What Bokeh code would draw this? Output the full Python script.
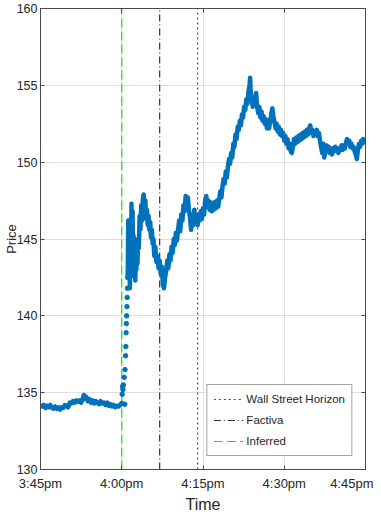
from bokeh.plotting import figure
from bokeh.models import Range1d, FixedTicker, LinearAxis, Legend, LegendItem
from bokeh.embed import file_html
from bokeh.resources import INLINE

# ---- data (minutes after 3:45pm, price) ----
time_min = [
    0.0, 0.3, 0.6, 0.9, 1.2, 1.5, 1.8, 2.1, 2.4, 2.7, 3.0, 3.3, 3.6, 3.9, 4.2, 4.5, 4.8, 5.1,
    5.4, 5.7, 6.0, 6.3, 6.6, 6.9, 7.2, 7.5, 7.8, 8.0, 8.2, 8.4, 8.7, 9.0, 9.3, 9.6, 9.9, 10.2,
    10.5, 10.8, 11.1, 11.4, 11.7, 12.0, 12.3, 12.6, 12.9, 13.2, 13.5, 13.8, 14.1, 14.4, 14.7, 15.0,
    15.08, 15.15, 15.22, 15.3, 15.45, 15.55, 15.6, 15.7, 15.75, 15.8, 15.85, 15.9, 15.95, 16.0, 16.05,
    16.1, 16.2, 16.3, 16.4, 16.5, 16.6, 16.7, 16.8, 16.9, 17.0, 17.1, 17.2, 17.3, 17.4, 17.5, 17.6,
    17.7, 17.8, 17.9, 18.0, 18.15, 18.3, 18.45, 18.6, 18.75, 18.9, 19.05, 19.2, 19.35, 19.5, 19.65,
    19.8, 19.95, 20.1, 20.25, 20.4, 20.55, 20.7, 20.85, 21.0, 21.2, 21.4, 21.6, 21.8, 22.0, 22.2,
    22.4, 22.6, 22.8, 23.0, 23.2, 23.4, 23.6, 23.8, 24.0, 24.2, 24.4, 24.6, 24.8, 25.0, 25.2, 25.4,
    25.6, 25.8, 26.0, 26.2, 26.4, 26.6, 26.8, 27.0, 27.2, 27.4, 27.6, 27.8, 28.0, 28.2, 28.4, 28.6,
    28.8, 29.0, 29.2, 29.4, 29.6, 29.8, 30.0, 30.2, 30.4, 30.6, 30.8, 31.0, 31.2, 31.4, 31.6, 31.8,
    32.0, 32.2, 32.4, 32.6, 32.8, 33.0, 33.2, 33.4, 33.6, 33.8, 34.0, 34.2, 34.4, 34.6, 34.8, 35.0,
    35.2, 35.4, 35.6, 35.8, 36.0, 36.2, 36.4, 36.6, 36.8, 37.0, 37.2, 37.4, 37.6, 37.8, 38.0, 38.2,
    38.4, 38.6, 38.7, 38.8, 39.0, 39.2, 39.4, 39.6, 39.8, 40.0, 40.2, 40.4, 40.6, 40.8, 41.0, 41.2,
    41.4, 41.6, 41.8, 42.0, 42.2, 42.4, 42.6, 42.8, 43.0, 43.2, 43.4, 43.6, 43.8, 44.0, 44.2, 44.4,
    44.6, 44.8, 45.0, 45.2, 45.4, 45.6, 45.8, 46.0, 46.2, 46.4, 46.6, 46.8, 47.0, 47.2, 47.4, 47.6,
    47.8, 48.0, 48.2, 48.4, 48.6, 48.8, 49.0, 49.2, 49.4, 49.6, 49.8, 50.0, 50.2, 50.4, 50.6, 50.8,
    51.0, 51.2, 51.4, 51.6, 51.8, 52.0, 52.2, 52.4, 52.6, 52.8, 53.0, 53.2, 53.4, 53.6, 53.8, 54.0,
    54.2, 54.4, 54.6, 54.8, 55.0, 55.2, 55.4, 55.6, 55.8, 56.0, 56.2, 56.4, 56.6, 56.8, 57.0, 57.2,
    57.4, 57.6, 57.8, 58.0, 58.2, 58.4, 58.6, 58.8, 59.0, 59.2, 59.4, 59.6, 59.8, 60.0,
]
price = [
    134.25, 134.1, 134.2, 134.0, 134.15, 134.05, 134.2, 134.0, 133.95, 134.1, 133.95, 134.05, 133.9,
    134.05, 134.0, 134.2, 134.15, 134.05, 134.35, 134.3, 134.45, 134.35, 134.5, 134.4, 134.5, 134.35,
    134.6, 134.85, 134.6, 134.75, 134.45, 134.6, 134.35, 134.5, 134.3, 134.45, 134.35, 134.25, 134.45,
    134.3, 134.35, 134.2, 134.35, 134.15, 134.25, 134.1, 134.2, 134.05, 134.15, 134.1, 134.2, 134.3,
    134.9, 135.4, 135.2, 135.5, 136.0, 134.25, 136.5, 137.4, 138.0, 138.9, 139.5, 140.0, 140.6, 141.2,
    141.8,
    142.5, 146.2, 143.0, 145.5, 141.8, 144.8, 143.2, 147.3, 144.0, 146.8, 142.6, 145.2, 143.0, 144.5,
    142.3, 144.2, 143.0, 144.6, 143.4, 145.0, 144.4, 146.5, 145.6, 147.2, 146.2, 147.6, 147.9, 146.8,
    147.5, 146.3, 146.9, 145.9, 146.5, 145.6, 146.1, 145.1, 145.6, 144.7, 145.0, 143.9, 144.5, 143.5,
    143.9, 143.1, 143.6, 142.7, 143.2, 142.0, 141.8, 142.5, 142.9, 143.6, 143.1, 144.0, 143.6, 144.5,
    144.1, 145.0, 144.6, 145.4, 144.9, 145.6, 146.2, 145.5, 146.6, 146.2, 147.2, 146.8, 147.8, 147.3,
    147.7, 146.9, 146.4, 145.6, 146.6, 145.9, 146.9, 146.1, 146.5, 145.9, 146.6, 146.2, 146.8, 146.3,
    147.0, 146.6, 147.5, 147.8, 147.1, 147.5, 146.9, 147.4, 146.8, 147.3, 146.9, 147.4, 147.0, 147.5,
    147.1, 147.6, 148.1, 147.7, 148.4, 148.9, 148.6, 149.4, 149.0, 149.7, 150.2, 149.9, 150.6, 150.3,
    151.2, 151.0, 151.8, 151.5, 152.3, 152.1, 152.7, 152.4, 153.1, 152.9, 153.6, 153.4, 154.1, 153.8,
    154.6, 155.0, 155.5, 154.6, 154.0, 153.6, 154.2, 153.7, 154.5, 153.6, 153.2, 153.6, 152.9, 153.3,
    152.7, 153.0, 152.5, 152.8, 152.2, 152.6, 152.2, 152.7, 153.1, 153.5, 153.0, 152.6, 152.2, 152.5,
    152.0, 152.3, 151.8, 152.1, 151.7, 151.9, 151.4, 151.7, 151.2, 151.5, 150.9, 151.2, 150.7, 150.6,
    151.0, 151.5, 151.2, 151.6, 151.3, 151.7, 151.4, 151.8, 151.5, 151.9, 151.6, 152.0, 151.7, 152.1,
    151.8, 152.2, 152.4, 151.9, 152.1, 151.7, 152.0, 151.8, 152.1, 151.7, 151.9, 151.4, 151.0, 150.6,
    151.2, 150.3, 150.9, 151.1, 150.7, 151.0, 150.6, 150.9, 150.5, 150.9, 150.7, 151.0, 150.8, 150.9,
    150.6, 150.9, 150.8, 151.1, 150.8, 151.0, 150.9, 151.3, 151.5, 151.2, 151.4, 151.0, 151.2, 150.9,
    151.0, 150.7, 150.5, 150.2, 150.8, 151.2, 151.0, 151.4, 151.2, 151.5, 151.3, 151.4,
]

# event announcement times (minutes after 3:45pm)
event_names = ["Wall Street Horizon", "Factiva", "Inferred"]
event_minutes = [29.0, 22.0, 15.0]
event_colors = ["#ff0000", "#333333", "#00ee00"]
event_dashes = ["2 3", "7 3 1 3", "9 4"]

x_tick_values = [0, 15, 30, 45, 60]
x_tick_labels = ["3:45pm", "4:00pm", "4:15pm", "4:30pm", "4:45pm"]
y_tick_values = [130, 135, 140, 145, 150, 155, 160]
y_limits = [130, 160]

jump_start, jump_end = 15.0, 16.1

FONT = "Liberation Sans"
AX = "#4a4a4a"
TXT = "#262626"

p = figure(width=373, height=515, output_backend="svg", toolbar_location=None,
           x_range=Range1d(0, 60), y_range=Range1d(*y_limits),
           min_border_top=8, min_border_right=8, min_border_left=36, min_border_bottom=0)

p.background_fill_color = "white"
p.border_fill_color = "white"
p.outline_line_color = AX
p.outline_line_width = 1

# grid
p.xgrid.ticker = FixedTicker(ticks=x_tick_values)
p.ygrid.ticker = FixedTicker(ticks=y_tick_values)
for g in (p.xgrid, p.ygrid):
    g.grid_line_color = "#dedede"
    g.grid_line_width = 1

def style_axis(ax):
    ax.axis_line_color = AX
    ax.major_tick_line_color = AX
    ax.major_tick_in = 4
    ax.major_tick_out = 0
    ax.minor_tick_line_color = None
    ax.major_label_text_font = FONT
    ax.major_label_text_color = TXT

style_axis(p.xaxis[0])
style_axis(p.yaxis[0])
p.xaxis.ticker = FixedTicker(ticks=x_tick_values)
p.xaxis.major_label_overrides = {v: l for v, l in zip(x_tick_values, x_tick_labels)}
p.xaxis.major_label_text_font_size = "13px"
p.xaxis.major_label_standoff = 6
p.yaxis.ticker = FixedTicker(ticks=y_tick_values)
p.yaxis.major_label_text_font_size = "12.5px"
p.yaxis.major_label_standoff = 3

p.xaxis.axis_label = "Time"
p.xaxis.axis_label_text_font = FONT
p.xaxis.axis_label_text_font_size = "16px"
p.xaxis.axis_label_text_font_style = "normal"
p.xaxis.axis_label_text_color = TXT
p.xaxis.axis_label_standoff = 2

p.yaxis.axis_label = "Price"
p.yaxis.axis_label_text_font = FONT
p.yaxis.axis_label_text_font_size = "13px"
p.yaxis.axis_label_text_font_style = "normal"
p.yaxis.axis_label_text_color = TXT
p.yaxis.axis_label_standoff = -5

# box ticks on top and right (ticks only, no labels)
top_ax = LinearAxis(ticker=FixedTicker(ticks=x_tick_values))
style_axis(top_ax)
top_ax.major_label_text_color = None
top_ax.major_label_standoff = 0
p.add_layout(top_ax, "above")
right_ax = LinearAxis(ticker=FixedTicker(ticks=y_tick_values))
style_axis(right_ax)
right_ax.major_label_text_color = None
right_ax.major_label_standoff = 0
p.add_layout(right_ax, "right")

# event lines
items = []
for name, t, c, d in zip(event_names, event_minutes, event_colors, event_dashes):
    r = p.line(x=[t, t], y=y_limits, line_color=c, line_dash=d, line_width=1.2)
    items.append(LegendItem(label=name, renderers=[r]))

# price series
BLUE = "#0072BD"
pre_x = [t for t in time_min if t <= jump_start]
pre_y = [v for t, v in zip(time_min, price) if t <= jump_start]
jmp_x = [t for t in time_min if jump_start <= t <= jump_end]
jmp_y = [v for t, v in zip(time_min, price) if jump_start <= t <= jump_end]
post_x = [t for t in time_min if t >= jump_end]
post_y = [v for t, v in zip(time_min, price) if t >= jump_end]

p.line(pre_x, pre_y, line_color=BLUE, line_width=4.5, line_join="round")
p.scatter(jmp_x, jmp_y, size=4.5, fill_color=BLUE, line_color=BLUE)
p.line(post_x, post_y, line_color=BLUE, line_width=4.5, line_join="round")

legend = Legend(items=items, location="bottom_right")
legend.label_text_font = FONT
legend.label_text_font_size = "11.5px"
legend.label_text_color = TXT
legend.border_line_color = AX
legend.border_line_width = 1
legend.background_fill_alpha = 1
legend.glyph_width = 30
legend.glyph_height = 16
legend.label_standoff = 3
legend.spacing = 5
legend.padding = 6
legend.margin = 13
legend.label_height = 16
p.add_layout(legend, "center")

open("out.html", "w").write(file_html(p, INLINE))
